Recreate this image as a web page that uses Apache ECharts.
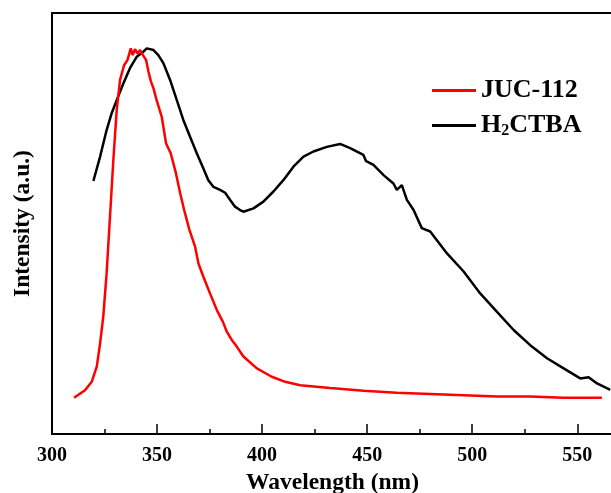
<!DOCTYPE html>
<html>
<head>
<meta charset="utf-8">
<script src="https://cdn.jsdelivr.net/npm/echarts@6/dist/echarts.min.js"></script>
<style>html,body{margin:0;padding:0;background:#fff}#c{width:611px;height:493px}</style>
</head>
<body>
<div id="c"></div>
<script>
const seriesNames = ['JUC-112', 'H2CTBA'];
const xTicks = [300, 350, 400, 450, 500, 550];

const jucX = [310.5, 315.7, 318.9, 321.3, 322.9, 324.4, 326.0, 327.6, 329.2, 330.8, 332.4, 334.3, 335.9, 337.5, 338.4, 339.5, 340.6, 341.9, 343.5, 344.8, 345.9, 347.1, 348.3, 349.8, 352.2, 354.3, 356.5, 359.0, 361.0, 362.9, 365.4, 368.1, 369.7, 372.0, 375.2, 378.4, 381.3, 383.2, 385.6, 388.0, 391.1, 397.5, 404.6, 411.0, 418.1, 432.4, 448.3, 464.1, 480.0, 495.9, 511.8, 527.6, 543.5, 561.7];
const jucY = [8.6, 10.4, 12.4, 16.0, 21.6, 27.9, 38.2, 51.6, 65.1, 77.0, 84.1, 87.6, 88.8, 91.6, 90.0, 91.4, 90.4, 91.2, 89.8, 88.8, 86.1, 83.7, 82.1, 79.3, 75.4, 69.0, 66.7, 61.9, 57.2, 53.2, 48.5, 44.5, 40.5, 37.4, 33.4, 29.5, 26.7, 24.3, 22.3, 20.7, 18.4, 15.6, 13.6, 12.4, 11.6, 10.9, 10.3, 9.8, 9.5, 9.2, 8.9, 8.9, 8.6, 8.6];

const h2X = [319.7, 322.9, 326.0, 328.4, 330.8, 334.0, 337.1, 340.3, 343.5, 345.1, 348.3, 350.6, 353.0, 356.2, 359.4, 362.5, 365.7, 368.9, 372.0, 374.4, 376.8, 380.0, 382.4, 384.8, 387.1, 389.5, 391.1, 395.9, 400.6, 405.4, 410.1, 414.9, 419.7, 424.4, 430.8, 437.1, 441.9, 448.2, 449.5, 453.0, 457.8, 462.5, 464.1, 466.5, 468.9, 472.1, 476.0, 480.0, 488.0, 495.9, 503.8, 511.8, 519.7, 527.6, 535.6, 543.5, 551.4, 555.4, 559.4, 565.7];
const h2Y = [60.1, 65.9, 72.2, 76.2, 79.3, 83.3, 86.9, 89.6, 90.8, 91.6, 91.2, 90.0, 88.1, 84.1, 79.3, 74.6, 70.6, 66.7, 63.1, 60.3, 58.7, 58.0, 57.3, 55.6, 54.0, 53.2, 52.8, 53.6, 55.2, 57.6, 60.3, 63.5, 65.9, 67.1, 68.2, 68.9, 67.9, 66.3, 64.8, 63.9, 61.5, 59.5, 58.0, 59.1, 55.6, 53.2, 48.9, 48.1, 42.9, 38.6, 33.4, 29.0, 24.7, 21.1, 18.0, 15.6, 13.2, 13.5, 12.0, 10.5];

const pairs = (xs, ys) => xs.map((x, i) => [x, ys[i]]);
const FONT = '"Liberation Serif", "Times New Roman", serif';

const chart = echarts.init(document.getElementById('c'), null, {renderer: 'canvas'});
chart.setOption({
  animation: false,
  backgroundColor: '#fff',
  grid: {left: 52, right: -2, top: 13, bottom: 59, outerBoundsMode: 'none', containLabel: false,
    show: true, borderColor: '#000', borderWidth: 2, backgroundColor: 'transparent'},
  legend: {
    orient: 'vertical',
    left: 427,
    top: 72,
    itemWidth: 44,
    itemHeight: 3,
    itemGap: 7,
    icon: 'rect',
    data: seriesNames,
    textStyle: {
      fontFamily: FONT, fontWeight: 'bold', fontSize: 26, color: '#000', lineHeight: 27,
      rich: {
        sub: {fontFamily: FONT, fontWeight: 'bold', fontSize: 16, color: '#000', verticalAlign: 'bottom', lineHeight: 14, padding: [12, 0, 0, 0]}
      }
    },
    formatter: function (n) { return n === 'H2CTBA' ? 'H{sub|2}CTBA' : n; }
  },
  xAxis: {
    type: 'value',
    min: 300,
    max: 567,
    interval: 50,
    name: 'Wavelength (nm)',
    nameLocation: 'middle',
    nameGap: 33,
    nameTextStyle: {fontFamily: FONT, fontWeight: 'bold', fontSize: 23.5, color: '#000'},
    axisLine: {show: true, lineStyle: {color: '#000', width: 2}},
    axisTick: {show: true, inside: true, length: 10, lineStyle: {color: '#000', width: 1.5}},
    minorTick: {show: true, splitNumber: 2, length: 5, lineStyle: {color: '#000', width: 1.5}},
    axisLabel: {show: true, showMaxLabel: false, margin: 12, fontFamily: FONT, fontWeight: 'bold', fontSize: 20, color: '#000',
      formatter: function (v) { return xTicks.indexOf(v) >= 0 ? String(v) : ''; }},
    splitLine: {show: false}
  },
  yAxis: {
    type: 'value',
    min: 0,
    max: 100,
    name: 'Intensity (a.u.)',
    nameLocation: 'middle',
    nameGap: 17,
    nameTextStyle: {fontFamily: FONT, fontWeight: 'bold', fontSize: 23.5, color: '#000'},
    axisLine: {show: true, lineStyle: {color: '#000', width: 2}},
    axisTick: {show: false},
    axisLabel: {show: false},
    splitLine: {show: false}
  },
  series: [
    {name: 'JUC-112', type: 'line', data: pairs(jucX, jucY), showSymbol: false, symbol: 'none', smooth: false,
      lineStyle: {color: '#ff0000', width: 2.5}, itemStyle: {color: '#ff0000'}, z: 3},
    {name: 'H2CTBA', type: 'line', data: pairs(h2X, h2Y), showSymbol: false, symbol: 'none', smooth: false,
      lineStyle: {color: '#000000', width: 2.5}, itemStyle: {color: '#000000'}, z: 2}
  ]
});
</script>
</body>
</html>
